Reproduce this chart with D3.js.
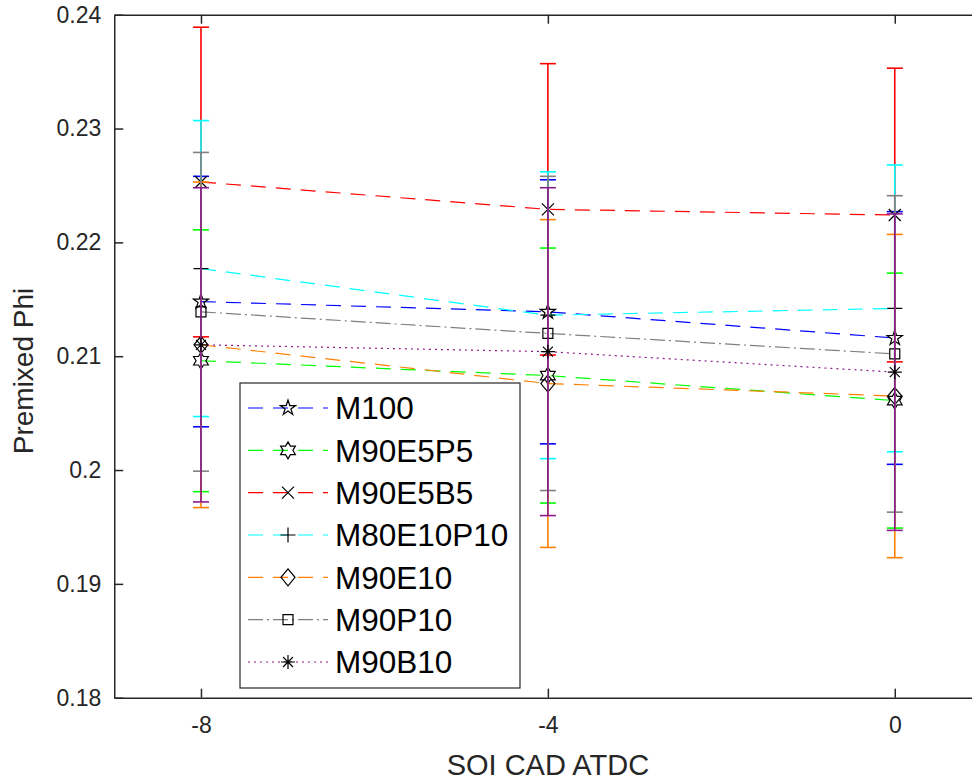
<!DOCTYPE html>
<html>
<head>
<meta charset="utf-8">
<script src="https://cdn.jsdelivr.net/npm/d3@7"></script>
<style>
  html, body { margin: 0; padding: 0; background: #fff; }
  svg { display: block; font-family: "Liberation Sans", Arial, Helvetica, sans-serif; }
</style>
</head>
<body>
<svg id="chart" width="972" height="780"></svg>
<script>
// Crank angle positions (SOI, CAD ATDC)
const soi = [-8, -4, 0];
const xTickValues = [-8, -4, 0];
const xTickLabels = ["-8", "-4", "0"];
const yTickValues = [0.18, 0.19, 0.20, 0.21, 0.22, 0.23, 0.24];
const yTickLabels = ["0.18", "0.19", "0.2", "0.21", "0.22", "0.23", "0.24"];

// Fuel blend names, in plotting order
const blends = ["M100", "M90E5P5", "M90E5B5", "M80E10P10", "M90E10", "M90P10", "M90B10"];

// Mean premixed equivalence ratio per blend at each SOI
const m100      = [0.2148, 0.2139, 0.2116];
const m90e5p5   = [0.2096, 0.2083, 0.2061];
const m90e5b5   = [0.2253, 0.2229, 0.2224];
const m80e10p10 = [0.2177, 0.2136, 0.2142];
const m90e10    = [0.2110, 0.2076, 0.2065];
const m90p10    = [0.2139, 0.2120, 0.2102];
const m90b10    = [0.2110, 0.2104, 0.2086];

// Half-width of the error bars
const m100Err      = [0.0110, 0.0116, 0.0111];
const m90e5p5Err   = [0.0115, 0.0112, 0.0112];
const m90e5b5Err   = [0.0136, 0.0128, 0.0129];
const m80e10p10Err = [0.0130, 0.0126, 0.0126];
const m90e10Err    = [0.0143, 0.0144, 0.0142];
const m90p10Err    = [0.0140, 0.0138, 0.0139];
const m90b10Err    = [0.0138, 0.0144, 0.0139];

const seriesValues = [m100, m90e5p5, m90e5b5, m80e10p10, m90e10, m90p10, m90b10];
const seriesErrors = [m100Err, m90e5p5Err, m90e5b5Err, m80e10p10Err, m90e10Err, m90p10Err, m90b10Err];

// Styling per blend
const colors  = ["#0000ff", "#00ff00", "#ff0000", "#00ffff", "#ff8000", "#808080", "#8c1a8c"];
const dashes  = ["15,10", "15,10", "15,10", "15,10", "15,10", "15,4,2,4", "2,4"];
const markers = ["pentagram", "hexagram", "x", "plus", "diamond", "square", "asterisk"];

const svg = d3.select("#chart");
const ink = "#262626";

const x = d3.scaleLinear().domain([-9, 1]).range([114.25, 981.5]);
const y = d3.scaleLinear().domain([0.18, 0.24]).range([697.7, 14.7]);

// Marker shapes as path strings centred at (cx, cy)
function starPath(cx, cy, n, rOut, rIn) {
  const pts = [];
  for (let i = 0; i < n * 2; i++) {
    const a = -Math.PI / 2 + i * Math.PI / n;
    const r = i % 2 === 0 ? rOut : rIn;
    pts.push([cx + r * Math.cos(a), cy + r * Math.sin(a)]);
  }
  return "M" + pts.map(p => p[0].toFixed(2) + "," + p[1].toFixed(2)).join("L") + "Z";
}
function markerPath(kind, cx, cy) {
  switch (kind) {
    case "pentagram": return starPath(cx, cy, 5, 8, 8 * 0.382);
    case "hexagram":  return starPath(cx, cy, 6, 8.5, 8.5 / Math.sqrt(3));
    case "x": return `M${cx-6},${cy-6}L${cx+6},${cy+6}M${cx-6},${cy+6}L${cx+6},${cy-6}`;
    case "plus": return `M${cx-7.5},${cy}L${cx+7.5},${cy}M${cx},${cy-7.5}L${cx},${cy+7.5}`;
    case "diamond": return `M${cx},${cy-8.5}L${cx+7},${cy}L${cx},${cy+8.5}L${cx-7},${cy}Z`;
    case "square": return `M${cx-5},${cy-5}L${cx+5},${cy-5}L${cx+5},${cy+5}L${cx-5},${cy+5}Z`;
    case "asterisk": return `M${cx-7},${cy}L${cx+7},${cy}M${cx},${cy-7}L${cx},${cy+7}` +
      `M${cx-5},${cy-5}L${cx+5},${cy+5}M${cx-5},${cy+5}L${cx+5},${cy-5}`;
  }
}

svg.append("rect").attr("x", 0).attr("y", 0).attr("width", 972).attr("height", 780).attr("fill", "#fff");

const plot = svg.append("g");
const line = d3.line().x((d, i) => x(soi[i])).y(d => y(d));
const capHalf = 8;

// Each blend: connecting line, error bars, then markers
blends.forEach((name, s) => {
  const g = plot.append("g").attr("class", "series");
  const vals = seriesValues[s];
  const errs = seriesErrors[s];
  g.append("path")
    .attr("d", line(vals))
    .attr("fill", "none")
    .attr("stroke", colors[s])
    .attr("stroke-width", 1.2)
    .attr("stroke-dasharray", dashes[s]);
  vals.forEach((v, i) => {
    const cx = x(soi[i]);
    const lo = y(v - errs[i]), hi = y(v + errs[i]);
    g.append("line").attr("x1", cx).attr("x2", cx).attr("y1", lo).attr("y2", hi)
      .attr("stroke", colors[s]).attr("stroke-width", 1.6);
    [lo, hi].forEach(yy => {
      g.append("line").attr("x1", cx - capHalf).attr("x2", cx + capHalf)
        .attr("y1", yy).attr("y2", yy)
        .attr("stroke", colors[s]).attr("stroke-width", 1.6);
    });
  });
  vals.forEach((v, i) => {
    g.append("path")
      .attr("d", markerPath(markers[s], x(soi[i]), y(v)))
      .attr("fill", "none")
      .attr("stroke", "#000")
      .attr("stroke-width", 1.2);
  });
});

// Axes (ticks point inward, box on)
const xAxis = svg.append("g").attr("transform", `translate(0,${y(0.18)})`)
  .call(d3.axisBottom(x).tickValues(xTickValues).tickSizeInner(-9).tickSizeOuter(0).tickPadding(19)
    .tickFormat((d, i) => xTickLabels[i]));
const xTop = svg.append("g").attr("transform", `translate(0,${y(0.24)})`)
  .call(d3.axisTop(x).tickValues(xTickValues).tickSizeInner(-9).tickSizeOuter(0).tickFormat(""));
const yAxis = svg.append("g").attr("transform", `translate(${x(-9)},0)`)
  .call(d3.axisLeft(y).tickValues(yTickValues).tickSizeInner(-9).tickSizeOuter(0).tickPadding(13)
    .tickFormat((d, i) => yTickLabels[i]));
[xAxis, xTop, yAxis].forEach(a => {
  a.select(".domain").attr("stroke", ink).attr("stroke-width", 1.5);
  a.selectAll(".tick line").attr("stroke", ink).attr("stroke-width", 1.5);
  a.selectAll(".tick text").attr("fill", ink).attr("font-size", 23)
    .attr("font-family", "'Liberation Sans', Arial, sans-serif");
});
// right edge of the box
svg.append("line").attr("x1", x(1)).attr("x2", x(1)).attr("y1", y(0.18)).attr("y2", y(0.24))
  .attr("stroke", ink).attr("stroke-width", 1.5);

// Axis titles
svg.append("text").attr("x", x(-4)).attr("y", 775).attr("text-anchor", "middle")
  .attr("font-size", 29).attr("fill", ink).text("SOI CAD ATDC");
svg.append("text").attr("transform", `translate(33,371) rotate(-90)`).attr("text-anchor", "middle")
  .attr("font-size", 28).attr("fill", ink).text("Premixed Phi");

// Legend
const legend = svg.append("g");
legend.append("rect").attr("x", 240).attr("y", 383).attr("width", 280).attr("height", 305)
  .attr("fill", "#fff").attr("stroke", ink).attr("stroke-width", 1.2);
const rowY = d3.scalePoint().domain(blends).range([408, 662]);
blends.forEach((name, s) => {
  const cy = rowY(name);
  legend.append("line").attr("x1", 248).attr("x2", 328).attr("y1", cy).attr("y2", cy)
    .attr("stroke", colors[s]).attr("stroke-width", 1.2).attr("stroke-dasharray", dashes[s]);
  legend.append("path").attr("d", markerPath(markers[s], 288, cy))
    .attr("fill", "none").attr("stroke", "#000").attr("stroke-width", 1.2);
  legend.append("text").attr("x", 335).attr("y", cy).attr("dy", "0.36em")
    .attr("font-size", 31.5).attr("fill", "#000").text(name);
});
</script>
</body>
</html>
